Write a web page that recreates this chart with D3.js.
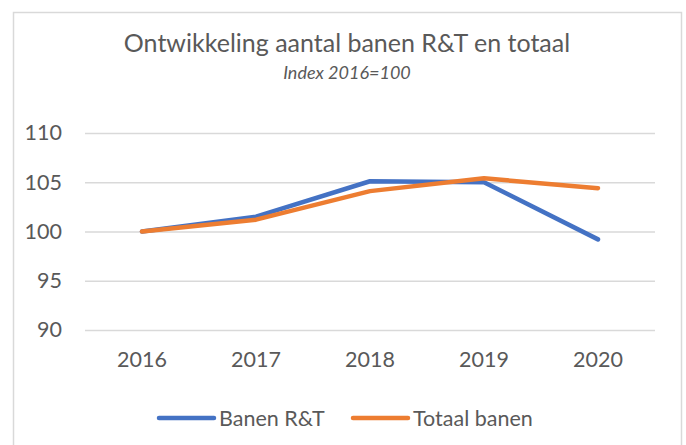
<!DOCTYPE html>
<html>
<head>
<meta charset="utf-8">
<script src="https://cdn.jsdelivr.net/npm/d3@7"></script>
<style>
  body { margin: 0; background: #fff; }
  svg { display: block; font-family: Lato, "Open Sans", sans-serif; }
</style>
</head>
<body>
<script>
const years = ["2016", "2017", "2018", "2019", "2020"];
const banenRT = [100, 101.5, 105.1, 105.0, 99.2];
const totaalBanen = [100, 101.2, 104.1, 105.4, 104.4];
const yTicks = [90, 95, 100, 105, 110];
const seriesNames = ["Banen R&T", "Totaal banen"];

const width = 686, height = 445;
const margin = { top: 133, right: 31, bottom: 115, left: 85 };

const color = d3.scaleOrdinal().domain(seriesNames).range(["#4472C4", "#ED7D31"]);

const svg = d3.select("body").append("svg")
  .attr("width", width)
  .attr("height", height);

// chart frame
svg.append("rect")
  .attr("x", 13.5).attr("y", 12.5)
  .attr("width", 668).attr("height", 450)
  .attr("fill", "#fff")
  .attr("stroke", "#d9d9d9")
  .attr("stroke-width", 1.5);

const x = d3.scaleBand().domain(years).range([margin.left, width - margin.right]);
const y = d3.scaleLinear().domain([90, 110]).range([height - margin.bottom, margin.top]);

// title
svg.append("text")
  .attr("x", 347).attr("y", 52)
  .attr("text-anchor", "middle")
  .attr("fill", "#595959")
  .style("font-size", "25px")
  .text("Ontwikkeling aantal banen R&T en totaal");

svg.append("text")
  .attr("x", 347).attr("y", 79)
  .attr("text-anchor", "middle")
  .attr("fill", "#595959")
  .style("font-size", "18px")
  .style("font-style", "italic")
  .text("Index 2016=100");

// gridlines + y labels
const yAxis = d3.axisLeft(y).tickValues(yTicks)
  .tickSize(-(width - margin.left - margin.right))
  .tickPadding(23);

svg.append("g")
  .attr("transform", `translate(${margin.left},0)`)
  .call(yAxis)
  .call(g => g.select(".domain").remove())
  .call(g => g.selectAll(".tick line").attr("stroke", "#d9d9d9").attr("stroke-width", 1.5))
  .call(g => g.selectAll(".tick text")
    .attr("fill", "#595959")
    .style("font-size", "21.5px")
    .style("font-family", "Lato, sans-serif"));

// x labels
const xAxis = d3.axisBottom(x).tickSize(0).tickPadding(22);
svg.append("g")
  .attr("transform", `translate(0,${y(90)})`)
  .call(xAxis)
  .call(g => g.select(".domain").remove())
  .call(g => g.selectAll(".tick text")
    .attr("fill", "#595959")
    .style("font-size", "21.5px")
    .style("font-family", "Lato, sans-serif"));

// lines
const series = [
  { name: seriesNames[0], values: banenRT },
  { name: seriesNames[1], values: totaalBanen }
];

const line = d3.line()
  .x((d, i) => x(years[i]) + x.bandwidth() / 2)
  .y(d => y(d));

svg.selectAll(".series")
  .data(series)
  .enter()
  .append("path")
  .attr("class", "series")
  .attr("d", d => line(d.values))
  .attr("fill", "none")
  .attr("stroke", d => color(d.name))
  .attr("stroke-width", 4.5)
  .attr("stroke-linecap", "round")
  .attr("stroke-linejoin", "round");

// legend
const legendX = [159, 353];
const legend = svg.selectAll(".legend")
  .data(seriesNames)
  .enter()
  .append("g")
  .attr("class", "legend")
  .attr("transform", (d, i) => `translate(${legendX[i]}, 418)`);

legend.append("line")
  .attr("x1", 0).attr("x2", 55)
  .attr("y1", 0).attr("y2", 0)
  .attr("stroke", color)
  .attr("stroke-width", 4.5)
  .attr("stroke-linecap", "round");

legend.append("text")
  .attr("x", 60)
  .attr("y", 8)
  .attr("fill", "#595959")
  .style("font-size", "21.5px")
  .text(d => d);
</script>
</body>
</html>
